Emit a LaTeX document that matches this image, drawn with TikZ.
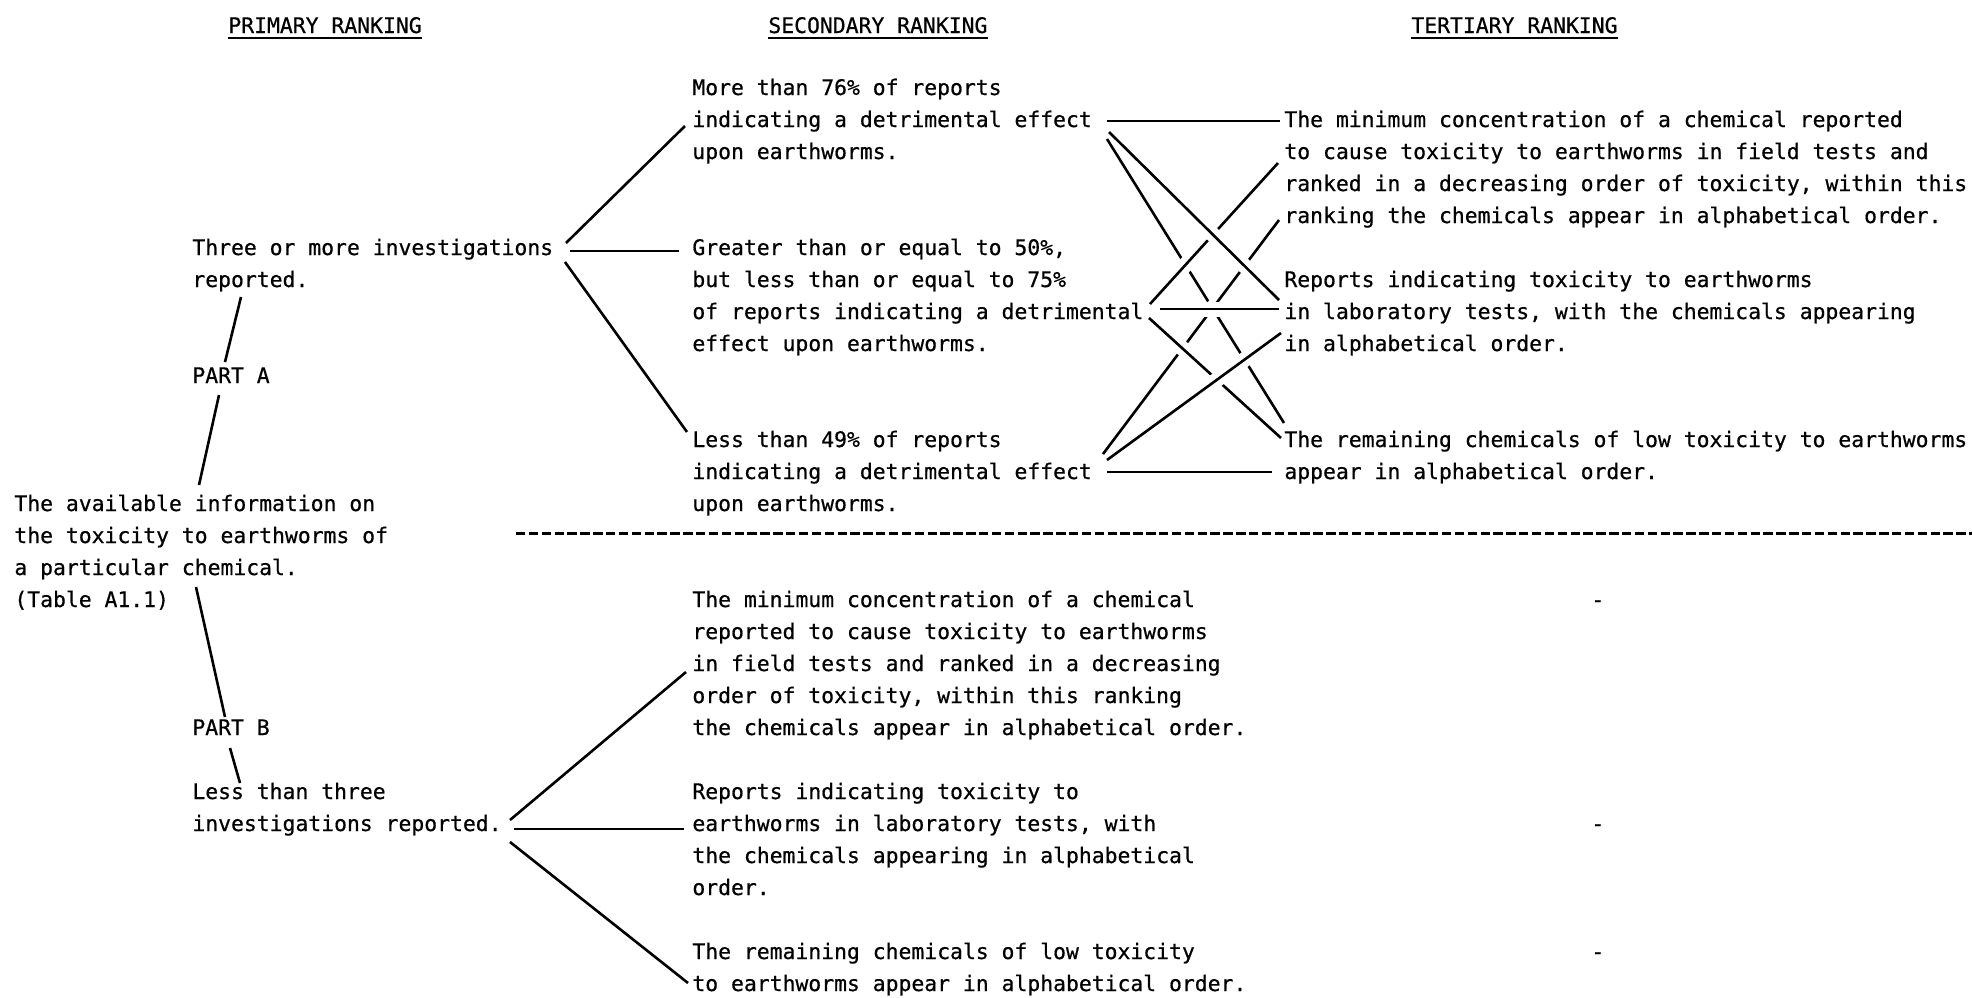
\documentclass[tikz,border=0pt]{standalone}
\usepackage{fontspec}
\newfontfamily\typew[FakeBold=0.6]{DejaVu Sans Mono}
\usetikzlibrary{calc}
\newcommand{\xconn}[4]{\draw[halo] ($(#1)!#3!(#2)$) -- ($(#1)!#4!(#2)$); \draw[conn] (#1) -- (#2);}
\begin{document}
\begin{tikzpicture}[x=0.5pt,y=-0.5pt,
  txt/.style={font=\typew\fontsize{10.7}{16}\selectfont, align=left, inner sep=0pt, anchor=base west},
  conn/.style={line width=1.3pt, black},
  halo/.style={line width=7.5pt, white},
  rulel/.style={line width=1.2pt},
  sepl/.style={line width=1.5pt, dash pattern=on 4.7pt off 1.73pt}]
\useasboundingbox (0,0) rectangle (1972,997);

% headers
\node[txt] (hp) at (228,33) {PRIMARY RANKING};
\node[txt] (hs) at (768,33) {SECONDARY RANKING};
\node[txt] (ht) at (1411,33) {TERTIARY RANKING};
\foreach \h in {hp,hs,ht}{
  \draw[rulel] ([shift={(0,5)}]\h.base west) -- ([shift={(0,5)}]\h.base east);
}

% primary column (node base = baseline of last line)
\node[txt] (p1) at (192,287) {Three or more investigations\\reported.};
\node[txt] (pa) at (192,383) {PART A};
\node[txt] (root) at (14,607) {The available information on\\the toxicity to earthworms of\\a particular chemical.\\(Table A1.1)};
\node[txt] (pb) at (192,735) {PART B};
\node[txt] (p2) at (192,831) {Less than three\\investigations reported.};

% secondary column (part A)
\node[txt] (s1) at (692,159) {More than 76\% of reports\\indicating a detrimental effect\\upon earthworms.};
\node[txt] (s2) at (692,351) {Greater than or equal to 50\%,\\but less than or equal to 75\%\\of reports indicating a detrimental\\effect upon earthworms.};
\node[txt] (s3) at (692,511) {Less than 49\% of reports\\indicating a detrimental effect\\upon earthworms.};

% tertiary column (part A)
\node[txt] (t1) at (1284,223) {The minimum concentration of a chemical reported\\to cause toxicity to earthworms in field tests and\\ranked in a decreasing order of toxicity, within this\\ranking the chemicals appear in alphabetical order.};
\node[txt] (t2) at (1284,351) {Reports indicating toxicity to earthworms\\in laboratory tests, with the chemicals appearing\\in alphabetical order.};
\node[txt] (t3) at (1284,479) {The remaining chemicals of low toxicity to earthworms\\appear in alphabetical order.};

% secondary column (part B)
\node[txt] (b1) at (692,735) {The minimum concentration of a chemical\\reported to cause toxicity to earthworms\\in field tests and ranked in a decreasing\\order of toxicity, within this ranking\\the chemicals appear in alphabetical order.};
\node[txt] (b2) at (692,895) {Reports indicating toxicity to\\earthworms in laboratory tests, with\\the chemicals appearing in alphabetical\\order.};
\node[txt] (b3) at (692,991) {The remaining chemicals of low toxicity\\to earthworms appear in alphabetical order.};

% tertiary dashes (part B)
\node[txt] (d1) at (1591,607) {-};
\node[txt] (d2) at (1591,831) {-};
\node[txt] (d3) at (1591,959) {-};

% separator
\coordinate (sepL) at (516,533);
\coordinate (sepR) at (1972,533);
\draw[sepl] (sepL) -- (sepR);

% ports
\coordinate (p1u) at ([shift={(374,-44)}]p1.base west);
\coordinate (p1m) at ([shift={(378,-36)}]p1.base west);
\coordinate (p1d) at ([shift={(373,-25)}]p1.base west);
\coordinate (p1b) at ([shift={(49,10)}]p1.base west);
\coordinate (s1i) at ([shift={(-7,-33)}]s1.base west);
\coordinate (s2i) at ([shift={(-13,-100)}]s2.base west);
\coordinate (s3i) at ([shift={(-5,-79)}]s3.base west);
\coordinate (pat) at ([shift={(33,-21)}]pa.base west);
\coordinate (pab) at ([shift={(27,12)}]pa.base west);
\coordinate (rtt) at ([shift={(185,-122)}]root.base west);
\coordinate (rtb) at ([shift={(182,-20)}]root.base west);
\coordinate (pbt) at ([shift={(33,-18)}]pb.base west);
\coordinate (pbb) at ([shift={(38,13)}]pb.base west);
\coordinate (p2t) at ([shift={(48,-48)}]p2.base west);
\coordinate (p2u) at ([shift={(318,-11)}]p2.base west);
\coordinate (p2m) at ([shift={(322,-2)}]p2.base west);
\coordinate (p2d) at ([shift={(318,11)}]p2.base west);
\coordinate (b1i) at ([shift={(-6,-63)}]b1.base west);
\coordinate (b2i) at ([shift={(-8,-66)}]b2.base west);
\coordinate (b3i) at ([shift={(-4,-8)}]b3.base west);

\coordinate (s1a) at ([shift={(415,-38)}]s1.base west);
\coordinate (s1b) at ([shift={(417,-27)}]s1.base west);
\coordinate (s1c) at ([shift={(415,-20)}]s1.base west);
\coordinate (s2a) at ([shift={(458,-47)}]s2.base west);
\coordinate (s2b) at ([shift={(468,-42)}]s2.base west);
\coordinate (s2c) at ([shift={(457,-33)}]s2.base west);
\coordinate (s3a) at ([shift={(411,-57)}]s3.base west);
\coordinate (s3b) at ([shift={(415,-51)}]s3.base west);
\coordinate (s3c) at ([shift={(415,-39)}]s3.base west);
\coordinate (t1a) at ([shift={(-4,-102)}]t1.base west);
\coordinate (t1b) at ([shift={(-6,-60)}]t1.base west);
\coordinate (t1c) at ([shift={(-5,-3)}]t1.base west);
\coordinate (t2a) at ([shift={(-5,-51)}]t2.base west);
\coordinate (t2b) at ([shift={(-5,-42)}]t2.base west);
\coordinate (t2c) at ([shift={(-3,-18)}]t2.base west);
\coordinate (t3a) at ([shift={(0,-56)}]t3.base west);
\coordinate (t3b) at ([shift={(-3,-41)}]t3.base west);
\coordinate (t3c) at ([shift={(-12,-7)}]t3.base west);

% primary connectors
\draw[conn] (p1u) -- (s1i);
\draw[conn] (p1m) -- (s2i);
\draw[conn] (p1d) -- (s3i);
\draw[conn] (p1b) -- (pat);
\draw[conn] (pab) -- (rtt);
\draw[conn] (rtb) -- (pbt);
\draw[conn] (pbb) -- (p2t);
\draw[conn] (p2u) -- (b1i);
\draw[conn] (p2m) -- (b2i);
\draw[conn] (p2d) -- (b3i);

% secondary to tertiary (lower lines first)
\draw[conn] (s1c) -- (t3a);
\xconn{s3a}{t1c}{0.3}{0.75}
\xconn{s2c}{t3b}{0.15}{0.85}
\xconn{s2a}{t1b}{0.15}{0.85}
\xconn{s1b}{t2a}{0.2}{0.9}
\xconn{s2b}{t2b}{0.1}{0.9}
\xconn{s3b}{t2c}{0.15}{0.85}
\draw[conn] (s1a) -- (t1a);
\draw[conn] (s3c) -- (t3c);
\end{tikzpicture}
\end{document}
